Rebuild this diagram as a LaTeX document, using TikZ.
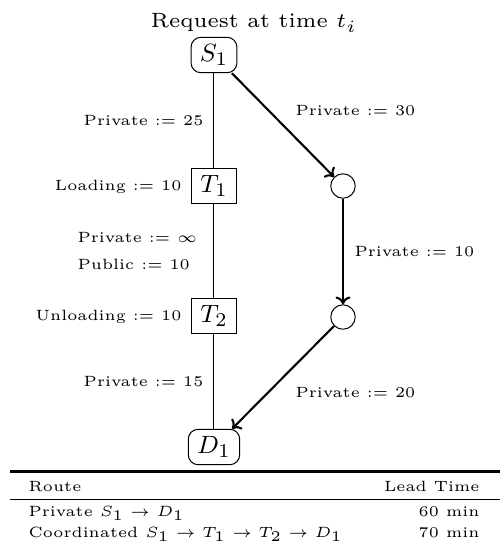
\documentclass[tikz,border=0pt]{standalone}
\usepackage{graphicx}
\usetikzlibrary{arrows.meta}
% small text set in the 5pt design, optionally enlarged
\newcommand{\fivept}{\fontsize{5}{6}\selectfont}
\newcommand{\bigfive}[2]{\scalebox{#1}{\fivept #2}}
\newcommand{\lbltxt}[1]{\bigfive{1.07}{#1}}
% heading set in the 6pt design, enlarged
\newcommand{\headtxt}[1]{\scalebox{1.24}{\fontsize{6}{7}\selectfont #1}}
\begin{document}
\begin{tikzpicture}[x=0.36pt,y=-0.36pt,
  endpoint/.style={draw, line width=0.36pt, rounded corners=3.6pt, inner xsep=3.2pt, inner ysep=2.6pt, font=\fontsize{9.5}{11}\selectfont},
  hub/.style={draw, line width=0.36pt, rectangle, inner xsep=3.2pt, inner ysep=2.6pt, font=\fontsize{9.5}{11}\selectfont},
  waypoint/.style={draw, line width=0.36pt, circle, minimum size=8.8pt, inner sep=0pt},
  lbl/.style={inner sep=0pt},
  cell/.style={inner sep=0pt, text depth=0pt},
  route/.style={line width=0.75pt, -{To[length=2.8pt,width=5.4pt]}},
  chain/.style={line width=0.36pt}
]
\useasboundingbox (0,0) rectangle (500,554);

% title
\node[anchor=base, inner sep=0pt] (title) at (254,27.7) {\headtxt{Request at time $t_i$}};

% coordinated chain through the terminals
\node[endpoint] (S1) at (214,55) {$S_1$};
\node[hub] (T1) at (214,186) {$T_1$};
\node[hub] (T2) at (214,316) {$T_2$};
\node[endpoint] (D1) at (214,447) {$D_1$};

% private direct route
\node[waypoint] (W1) at (343,186) {};
\node[waypoint] (W2) at (343,317) {};

\draw[chain] (S1) -- (T1) -- (T2) -- (D1);
\draw[route] (S1) -- (W1);
\draw[route] (W1) -- (W2);
\draw[route] (W2) -- (D1);

% labels of the coordinated chain
\node[lbl, anchor=base east] (l25) at (204,125) {\lbltxt{Private := 25}};
\node[lbl, anchor=base east] (lload) at (182,190.5) {\lbltxt{Loading := 10}};
\node[lbl, anchor=base west] (linf) at (77,242) {\lbltxt{Private := $\infty$}};
\node[lbl, anchor=base west] (lpub) at (77,269.5) {\lbltxt{Public := 10}};
\node[lbl, anchor=base east] (lunload) at (182,320.5) {\lbltxt{Unloading := 10}};
\node[lbl, anchor=base east] (l15) at (204,386.5) {\lbltxt{Private := 15}};

% labels of the private route
\node[lbl, anchor=base west] (l30) at (295,115.5) {\lbltxt{Private := 30}};
\node[lbl, anchor=base west] (l10) at (354,256) {\lbltxt{Private := 10}};
\node[lbl, anchor=base west] (l20) at (295,397) {\lbltxt{Private := 20}};

% lead-time table
\draw[line width=0.75pt] (10,471.5) -- (500,471.5);
\draw[line width=0.45pt] (10,499.5) -- (500,499.5);
\node[cell, anchor=base west] (hroute) at (28,491) {\lbltxt{Route}};
\node[cell, anchor=base east] (htime) at (480,491) {\lbltxt{Lead Time}};
\node[cell, anchor=base west] (r1) at (28,516) {\lbltxt{Private $S_1 \rightarrow D_1$}};
\node[cell, anchor=base east] (t1) at (480,516) {\lbltxt{60 min}};
\node[cell, anchor=base west] (r2) at (28,537) {\lbltxt{Coordinated $S_1 \rightarrow T_1 \rightarrow T_2 \rightarrow D_1$}};
\node[cell, anchor=base east] (t2) at (480,537) {\lbltxt{70 min}};
\end{tikzpicture}
\end{document}
